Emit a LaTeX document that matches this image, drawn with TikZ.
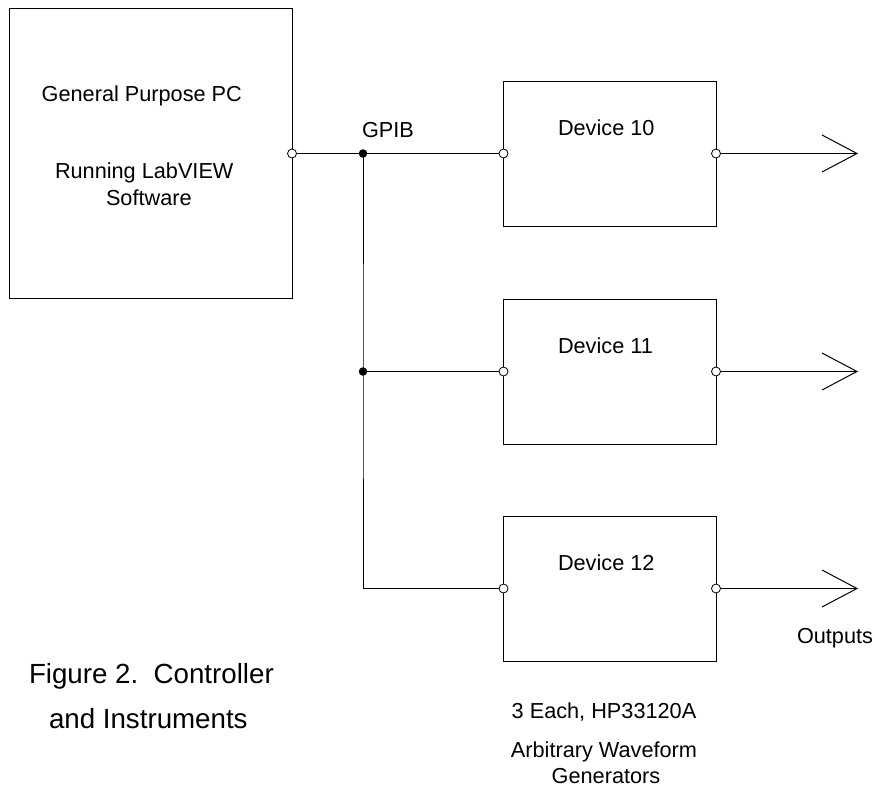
\documentclass[tikz,border=0pt]{standalone}
\usepackage{fontspec}
\setmainfont{Liberation Sans}
\begin{document}
\begin{tikzpicture}[x=1pt,y=-1pt,
  box/.style={draw=black,line width=1pt,inner sep=0pt,outer sep=0pt,rectangle},
  txt/.style={inner sep=0pt,outer sep=0pt,anchor=base west,font=\fontsize{21.7}{26}\selectfont},
  ctxt/.style={inner sep=0pt,outer sep=0pt,anchor=base,font=\fontsize{21.7}{26}\selectfont},
  captxt/.style={inner sep=0pt,outer sep=0pt,anchor=base west,font=\fontsize{27.7}{33}\selectfont},
  wire/.style={line width=1pt,black},
  port/.style={circle,draw=black,fill=white,line width=0.8pt,minimum size=9pt,inner sep=0pt},
  junction/.style={circle,fill=black,minimum size=8.5pt,inner sep=0pt}]
\useasboundingbox (0,0) rectangle (875,790);

% boxes
\node[box,minimum width=283pt,minimum height=290pt] (pc) at (150.5,153.5) {};
\node[box,minimum width=212.5pt,minimum height=145pt] (d10) at (609.75,153.5) {};
\node[box,minimum width=212.5pt,minimum height=145pt] (d11) at (609.75,371.5) {};
\node[box,minimum width=212.5pt,minimum height=145pt] (d12) at (609.75,588.5) {};

% texts
\node[txt] (t1) at (41.7,101) {General Purpose PC};
\node[txt] (t2) at (55,178) {Running LabVIEW};
\node[txt] (t3) at (106,205) {Software};
\node[txt] (gpib) at (362,137) {GPIB};
\node[txt] (l10) at (558,135) {Device 10};
\node[txt] (l11) at (558,353) {Device 11};
\node[txt] (l12) at (558,570) {Device 12};
\node[txt] (outs) at (797,643.5) {Outputs};
\node[captxt] (c1) at (29,683) {Figure 2.\ \ Controller};
\node[captxt] (c2) at (49,728) {and Instruments};
\node[ctxt] (e1) at (604,718) {3 Each, HP33120A};
\node[ctxt] (e2) at (604,757.5) {Arbitrary Waveform};
\node[ctxt] (e3) at (606,783.5) {Generators};

% bus
\coordinate (j1) at (363,153.5);
\coordinate (j2) at (363,371.5);
\coordinate (j3) at (363,588.5);
\draw[wire] (pc.east) -- (j1) -- (d10.west);
\draw[wire] (j1) -- (j2) -- (j3) -- (d12.west);
\draw[wire] (j2) -- (d11.west);

% outputs
\coordinate (o10) at (857,153.5);
\coordinate (o11) at (857,371.5);
\coordinate (o12) at (857,588.5);
\foreach \d/\o in {d10/o10,d11/o11,d12/o12}{
  \draw[wire] (\d.east) -- (\o);
  \draw[wire] ([shift={(-35,-18.5)}]\o) -- (\o) -- ([shift={(-35,18.5)}]\o);
}

% connector markers
\node[junction] (k1) at (j1) {};
\node[junction] (k2) at (j2) {};
\node[port] (ppc) at (pc.east) {};
\foreach \d in {d10,d11,d12}{
  \node[port] at (\d.west) {};
  \node[port] at (\d.east) {};
}
\end{tikzpicture}
\end{document}
